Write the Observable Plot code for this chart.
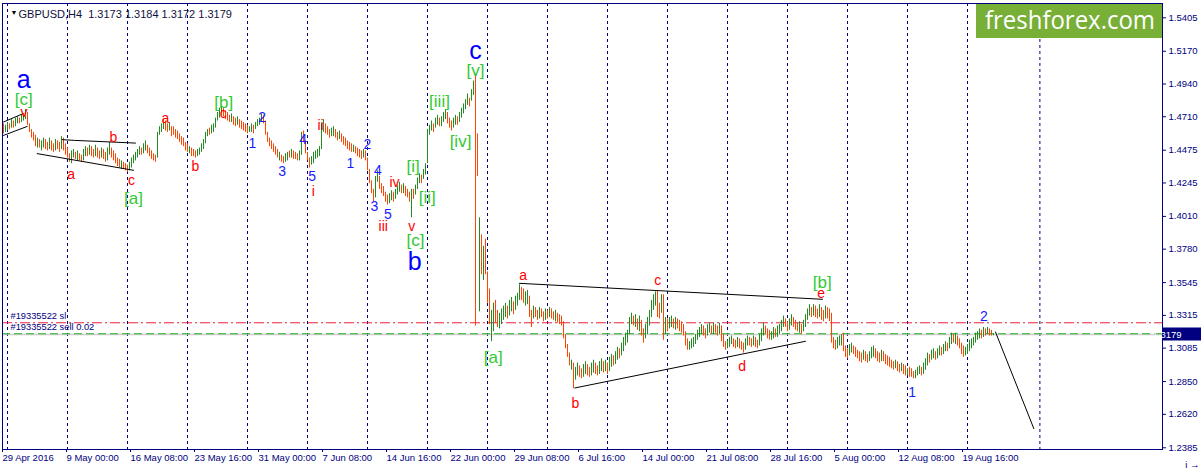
<!DOCTYPE html>
<!-- GBPUSD H4 wave chart, revision 5 -->
<html><head><meta charset="utf-8">
<title>GBPUSD H4 rev5</title>
<script src="https://cdn.jsdelivr.net/npm/d3@7"></script>
<script src="https://cdn.jsdelivr.net/npm/@observablehq/plot@0.6"></script>
<style>
html,body{margin:0;padding:0;background:#fff;overflow:hidden;}
#chart{position:relative;width:1202px;height:470px;overflow:hidden;}
#chart svg{display:block;}
</style></head><body><div id="chart"></div>
<script>
// labels and settings first
const lastBar = [1.3173, 1.3184, 1.3172, 1.3179]; // open high low close
const symbol = "GBPUSD,H4";
const slPrice = 1.3263;
const sellPrice = 1.3186;
const orderLabels = [["#19335522 sl", 13309], ["#19335522 sell 0.02", 13232]];

const xTickBars = [0, 32, 64, 96, 128, 160, 192, 224, 256, 288, 320, 352, 384, 416, 448, 480];
const xTickLabels = ["29 Apr 2016", "9 May 00:00", "16 May 08:00", "23 May 16:00", "31 May 00:00", "7 Jun 08:00",
  "14 Jun 16:00", "22 Jun 00:00", "29 Jun 08:00", "6 Jul 16:00", "14 Jul 00:00", "21 Jul 08:00",
  "28 Jul 16:00", "5 Aug 00:00", "12 Aug 08:00", "19 Aug 16:00"];
const yTicks = [1.5405, 1.5170, 1.4940, 1.4710, 1.4475, 1.4245, 1.4010, 1.3780, 1.3545, 1.3315, 1.3085, 1.2850, 1.2620, 1.2385];
const gridBars = [2, 32, 62, 92, 122, 152, 182, 212, 242, 272, 302, 332, 362, 392, 422, 452, 482, 518.2];

// trend lines [bar index, price pips]
const trendLines = [
  [[0, 14673], [9.85, 14732]],
  [[0, 14579], [11.85, 14642]],
  [[29.35, 14549], [35.5, 14544], [66, 14525]],
  [[16.85, 14451], [65, 14334]],
  [[258, 13540], [409.5, 13428]],
  [[285.65, 12805], [401, 13133]],
  [[496, 13198], [515.15, 12520]]
];

// wave labels [text, bar index, price pips]
const redLabels = [["v",10.25,14741],["a",33.85,14306],["b",55,14565],["c",64,14263],["a",81,14699],["b",96,14362],
  ["c",109.85,14734],["i",154.85,14188],["ii",158.5,14649],["iii",189.85,13936],["iv",195.5,14251],["v",204.15,13941],
  ["a",259.85,13596],["b",286,12698],["c",327.15,13561],["d",369.35,12958],["e",408.85,13470]];
const blueNums = [["1",124.5,14525],["2",129.35,14706],["3",139.35,14322],["4",149.85,14549],["5",154.35,14287],
  ["1",173.5,14383],["2",182,14516],["3",185.5,14076],["4",187.15,14329],["5",192.15,14023],["1",454.35,12770],["2",490.15,13309]];
const bigBlue = [["a",10.15,14970],["c",236,15171],["b",205.65,13690]];
const greenLabels = [["[c]",10.15,14830],["[a]",65,14137],["[b]",110.15,14813],["[i]",204.85,14362],["[ii]",211.85,14146],
  ["[c]",206,13837],["[iii]",218,14820],["[iv]",228.5,14539],["[v]",236,15036],["[a]",244.85,13016],["[b]",409.35,13542]];

// H4 bars, prices in 1e-4 units (pips). Bar index 0 = 29 Apr 2016 16:00
const hi = [
14660,14650,14670,14660,14690,14680,14700,14710,14700,14720,
14730,14760,14740,14660,14620,14600,14580,14560,14550,14540,
14560,14550,14530,14560,14540,14520,14550,14540,14530,14570,
14560,14520,14490,14450,14470,14480,14460,14470,14450,14440,
14480,14500,14490,14510,14500,14480,14510,14490,14470,14490,
14480,14460,14490,14530,14490,14470,14450,14420,14410,14400,
14390,14380,14370,14390,14420,14440,14460,14480,14500,14490,
14520,14540,14510,14490,14470,14450,14440,14600,14640,14660,
14690,14680,14660,14670,14640,14640,14620,14610,14590,14570,
14560,14530,14520,14500,14490,14480,14470,14480,14490,14520,
14550,14600,14620,14630,14650,14660,14700,14740,14770,14780,
14770,14750,14740,14720,14730,14710,14700,14710,14690,14680,
14670,14660,14650,14640,14660,14650,14670,14690,14700,14730,
14720,14680,14600,14560,14540,14520,14500,14480,14460,14440,
14430,14450,14460,14470,14480,14470,14460,14450,14470,14600,
14610,14540,14460,14420,14430,14460,14470,14480,14500,14660,
14690,14660,14640,14620,14630,14640,14620,14600,14610,14590,
14570,14560,14540,14530,14520,14510,14500,14490,14480,14470,
14480,14470,14420,14340,14260,14200,14290,14330,14290,14240,
14220,14180,14160,14170,14190,14180,14200,14230,14250,14230,
14240,14220,14200,14180,14200,14200,14230,14280,14310,14300,
14340,14380,14620,14650,14680,14660,14700,14720,14700,14710,
14740,14760,14740,14700,14680,14700,14720,14710,14740,14770,
14800,14830,14870,14840,14900,14960,15010,14590,14000,13880,
13800,13850,13620,13500,13350,13400,13420,13350,13330,13360,
13380,13400,13380,13420,13440,13410,13450,13470,13530,13510,
13500,13480,13490,13450,13350,13380,13370,13350,13370,13360,
13340,13360,13350,13370,13360,13340,13350,13330,13320,13310,
13270,13180,13110,13050,13000,12980,12950,12980,12960,12940,
12970,12990,12970,12950,12980,13000,12980,12960,12990,13010,
12990,13000,12980,13020,13040,13030,13060,13090,13080,13120,
13160,13190,13210,13300,13330,13310,13320,13290,13310,13280,
13220,13250,13300,13350,13420,13460,13480,13490,13400,13460,
13460,13300,13290,13300,13310,13290,13300,13290,13280,13270,
13250,13200,13150,13130,13150,13160,13180,13210,13230,13250,
13240,13220,13250,13260,13240,13260,13250,13240,13260,13240,
13180,13130,13140,13160,13170,13150,13140,13160,13150,13130,
13120,13150,13170,13160,13150,13170,13160,13140,13180,13220,
13260,13240,13220,13210,13200,13230,13220,13240,13250,13280,
13310,13290,13270,13290,13320,13300,13280,13260,13270,13250,
13280,13320,13360,13390,13370,13390,13380,13360,13390,13370,
13350,13380,13370,13360,13330,13160,13140,13160,13170,13180,
13190,13100,13080,13110,13120,13100,13090,13070,13060,13050,
13070,13060,13040,13060,13090,13100,13080,13060,13050,13070,
13060,13040,13030,13020,13000,12990,13000,12990,12970,12980,
12970,12960,12940,12950,12940,12920,12930,12950,12960,12950,
12980,13010,13050,13040,13070,13080,13060,13080,13100,13090,
13110,13130,13120,13160,13190,13180,13190,13170,13150,13120,
13100,13090,13110,13140,13150,13160,13190,13200,13220,13210,
13230,13220,13230,13220,13210,13184
];
const lo = [
14590,14600,14610,14620,14630,14630,14640,14660,14660,14670,
14680,14690,14650,14600,14560,14540,14500,14490,14490,14470,
14490,14480,14470,14480,14470,14460,14470,14480,14460,14480,
14470,14440,14420,14390,14380,14420,14410,14400,14400,14390,
14400,14430,14430,14440,14430,14420,14430,14420,14410,14420,
14410,14390,14400,14440,14420,14400,14380,14360,14350,14340,
14340,14330,14320,14330,14350,14380,14400,14420,14440,14440,
14450,14470,14450,14430,14410,14400,14390,14420,14580,14600,
14620,14610,14600,14610,14570,14580,14560,14550,14530,14510,
14500,14470,14460,14450,14430,14430,14420,14430,14440,14460,
14480,14520,14570,14580,14590,14600,14630,14680,14700,14720,
14710,14690,14680,14670,14670,14650,14640,14650,14630,14620,
14610,14600,14590,14600,14600,14590,14620,14640,14650,14670,
14660,14580,14530,14500,14480,14460,14440,14420,14400,14390,
14380,14390,14400,14420,14420,14410,14410,14400,14400,14440,
14530,14450,14400,14350,14370,14380,14410,14420,14430,14480,
14600,14590,14580,14560,14570,14570,14560,14540,14550,14530,
14510,14500,14480,14470,14460,14460,14450,14430,14420,14410,
14420,14400,14330,14240,14170,14110,14140,14250,14200,14170,
14150,14110,14090,14100,14120,14110,14130,14160,14180,14170,
14170,14150,14140,14110,14000,14130,14160,14200,14240,14240,
14270,14300,14380,14580,14610,14600,14630,14650,14640,14640,
14670,14690,14660,14630,14610,14630,14650,14650,14670,14700,
14730,14760,14790,14780,14820,14860,13240,14290,13340,13600,
13560,13600,13400,13250,13130,13200,13260,13230,13220,13250,
13280,13300,13290,13310,13340,13320,13350,13380,13420,13420,
13400,13380,13390,13300,13230,13290,13300,13280,13290,13300,
13270,13280,13290,13300,13290,13280,13270,13260,13250,13240,
13150,13080,13020,12960,12930,12800,12860,12890,12880,12870,
12880,12900,12890,12880,12890,12910,12900,12890,12900,12920,
12910,12920,12900,12920,12950,12960,12970,13000,13010,13030,
13060,13100,13120,13180,13250,13240,13230,13210,13200,13170,
13120,13150,13180,13240,13300,13350,13380,13300,13290,13330,
13140,13180,13200,13220,13230,13220,13210,13220,13200,13190,
13170,13100,13070,13070,13080,13090,13110,13140,13160,13180,
13170,13150,13170,13190,13180,13180,13190,13170,13180,13130,
13090,13070,13080,13090,13110,13090,13080,13090,13080,13070,
13050,13070,13100,13100,13090,13100,13090,13080,13100,13130,
13170,13180,13150,13140,13140,13150,13160,13160,13180,13200,
13230,13230,13200,13210,13240,13230,13210,13200,13190,13180,
13200,13230,13280,13310,13300,13310,13300,13290,13300,13280,
13270,13290,13290,13270,13120,13080,13070,13080,13100,13100,
13060,13020,13010,13030,13050,13040,13020,13010,12990,12980,
13000,12990,12980,12990,13010,13020,13010,12990,12980,12990,
12990,12970,12960,12950,12940,12930,12940,12920,12910,12920,
12900,12890,12890,12880,12880,12870,12870,12890,12900,12890,
12900,12930,12960,12980,13000,13010,13000,13010,13030,13030,
13040,13060,13060,13080,13110,13120,13110,13100,13080,13040,
13020,13030,13040,13060,13080,13100,13120,13140,13150,13150,
13160,13170,13180,13170,13170,13172
];
// bar direction: u = close above open (green), d = close below open (red)
const dirs = `
d u u d u d u u d u
u u d d d d d u d u
u d d u d d u d d u
d d d d u u d u d d
u u d u d d u d d u
d d u u d d d d d u
d d d u u u u u u d
u u d d d d d u u u
u d d u d d d d d d
d d d u d d d u u u
u u u d u u u u u u
d d d d u d d u d d
d d d u u d u u u u
d d d d d d d d u d
d u u d u d d d u u
d d d d u u u u u u
u d d d u u d d u d
d d d d d u d d d d
u d d d d d u u d d
d d d u u d u u u d
u d d d u d u u u d
u u u u u d u u d u
u u d d d u u d u u
u u u d u u d d u d
u d d d u u d d u u
u u d u u d u u u d
d u u d d u d d u d
d u d u d d u d d d
d d d d u d u u d d
u u d d u u d d u u
d u d u u d u u d u
u u u u u d u d u d
d u u u u u u d d u
d u d u u d u d d d
d d d u u u u u u u
d d u u d u d d u d
d d u u u d d u d d
d u u d d u d d u u
u d d d u u d u u u
u d d u u d d d u d
u u u u d u d d u d
d u d d d d d u u u
d d d u u d d d d d
u d d u u u d d d u
d d d d d d u d d u
d d u d d d u u u d
u u u d u u d u u d
u u d u u d u d d d
d u u u u u u u u d
u d u d d u`.replace(/\s+/g, "").split("");

const bars = hi.map((h, i) => ({i, hi: h / 1e4, lo: lo[i] / 1e4, up: dirs[i] === "u"}));
const upBars = bars.filter(d => d.up);
const downBars = bars.filter(d => !d.up);
const lineMarks = trendLines.map(pts => Plot.line(pts, {x: d => d[0], y: d => d[1] / 1e4, stroke: "#000", strokeWidth: 1}));
const lbl = (arr, fill, size) => Plot.text(arr, {x: d => d[1], y: d => d[2] / 1e4, text: d => d[0], fill, fontSize: size,
  fontFamily: "'Liberation Sans', Arial, sans-serif"});

const header = symbol + "  " + lastBar.map(v => v.toFixed(4)).join(" ");

const chart = Plot.plot({
  width: 1202, height: 470,
  marginTop: 3, marginBottom: 21, marginLeft: 2, marginRight: 40,
  style: {fontFamily: "'Liberation Sans', Arial, sans-serif", fontSize: "9.5px", color: "#000080", background: "#fff"},
  x: {domain: [-0.5, 579.5], axis: null},
  y: {domain: [1.23729, 1.55054], axis: null},
  marks: [
    Plot.ruleX(gridBars, {x: d => d, stroke: "#000080", strokeDasharray: "3,3"}),
    Plot.ruleY([lastBar[3]], {stroke: "#c0c0c0"}),
    Plot.ruleY([sellPrice], {stroke: "#22b022", strokeDasharray: "8,4"}),
    Plot.ruleY([slPrice], {stroke: "#e8203c", strokeDasharray: "10,3,2,3"}),
    Plot.ruleX(upBars, {x: "i", y1: "lo", y2: "hi", stroke: "#228b22", strokeWidth: 1}),
    Plot.ruleX(downBars, {x: "i", y1: "lo", y2: "hi", stroke: "#ff4500", strokeWidth: 1}),
    ...lineMarks,
    lbl(redLabels, "#ff0000", 14),
    lbl(blueNums, "#1a1aff", 14),
    lbl(greenLabels, "#32c832", 17),
    lbl(bigBlue, "#0000ff", 25),
    Plot.text(orderLabels, {frameAnchor: "left", dx: 8, y: d => d[1] / 1e4, text: d => d[0], textAnchor: "start", fill: "#000080", fontSize: 9.3}),
    Plot.text(["\u25BC"], {frameAnchor: "top-left", dx: 8, dy: 7, fill: "#000", fontSize: 7}),
    Plot.text([header], {frameAnchor: "top-left", dx: 16, dy: 7, textAnchor: "start", fill: "#101040", fontSize: 11}),
    Plot.axisY(yTicks, {anchor: "right", tickSize: 3, tickPadding: 3, tickFormat: d => d.toFixed(4), stroke: "#000080", fill: "#000080"}),
    Plot.axisX(xTickBars, {anchor: "bottom", tickSize: 3, tickPadding: 2, tickFormat: d => xTickLabels[xTickBars.indexOf(d)],
      textAnchor: "start", dx: -1, stroke: "#000080", fill: "#000080"}),
    Plot.frame({stroke: "#000080"})
  ]
});
document.getElementById("chart").appendChild(chart);

// current price box on the right axis and the watermark
const svg = d3.select(chart);
const yS = chart.scale("y");
const py = yS.apply(lastBar[3]);
const g = svg.append("g");
g.append("rect").attr("x", 1163).attr("y", Math.round(py) - 6.5).attr("width", 38).attr("height", 13).attr("fill", "#000080");
g.append("text").attr("x", 1167).attr("y", py).attr("dy", "0.35em").attr("fill", "#fff")
  .attr("font-family", "'Liberation Sans', Arial, sans-serif").attr("font-size", "9.5px").text(lastBar[3].toFixed(4));
const wm = svg.append("g");
wm.append("rect").attr("x", 976).attr("y", 4).attr("width", 186).attr("height", 34).attr("fill", "#78af37");
wm.append("text").attr("x", 1070).attr("y", 29).attr("text-anchor", "middle").attr("fill", "#fff")
  .attr("font-family", "'Open Sans', 'Noto Sans', sans-serif").attr("font-size", "25px")
  .attr("textLength", 170).attr("lengthAdjust", "spacingAndGlyphs").text("freshforex.com");
</script></body></html>
